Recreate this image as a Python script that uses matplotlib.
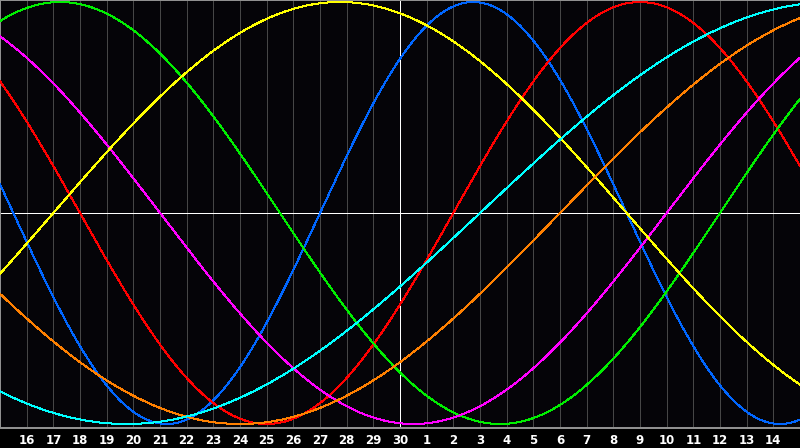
import numpy as np
import matplotlib
matplotlib.use("Agg")
import matplotlib.pyplot as plt

# Day labels along the bottom (grid positions 1..29; left edge = day 15)
day_labels = ["16", "17", "18", "19", "20", "21", "22", "23", "24", "25", "26", "27", "28", "29", "30",
              "1", "2", "3", "4", "5", "6", "7", "8", "9", "10", "11", "12", "13", "14"]

# Cycle lengths (days) and the day offset (from left edge) where each cycle crosses zero rising
cycle_names = ["physical", "emotional", "intellectual", "intuitive", "aesthetic", "awareness", "spiritual"]
cycle_periods = [23, 28, 33, 38, 43, 48, 53]
cycle_zero_day = [12, 17, 27, 25, 2, 21, 18]
cycle_colors = ["#0066ff", "#ff0000", "#00ee00", "#ff00ff", "#ffff00", "#ff8000", "#00ffff"]

n_days = 30
today_index = 15
px = 72.0 / 100.0  # one pixel in points

fig = plt.figure(figsize=(8.0, 4.48), dpi=100)
fig.patch.set_facecolor("#000000")
ax_bottom = (448 - 428) / 448
ax = fig.add_axes([0.0, ax_bottom, 1.0, 1.0 - ax_bottom])
ax.set_facecolor("#050408")

t = np.linspace(0, n_days, 1600)
for per, z, col in zip(cycle_periods, cycle_zero_day, cycle_colors):
    ax.plot(t, np.sin(2 * np.pi * (t - z) / per), color=col, lw=px, antialiased=False, zorder=3)

for k in range(1, n_days):
    if k == today_index:
        continue
    ax.axvline(k, color="#464646", lw=px, antialiased=False, zorder=1)
ax.axvline(today_index, color="#ffffff", lw=px, antialiased=False, zorder=2)
ax.axhline(0, color="#ffffff", lw=px, antialiased=False, zorder=2)

ax.set_xlim(0, n_days)
ax.set_ylim(-215 / 211, 213 / 211)
ax.set_xticks(range(1, n_days))
ax.set_xticklabels(day_labels)
ax.set_yticks([])
ax.tick_params(axis="x", length=0, pad=4, colors="white", labelsize=8.5)
for lab in ax.get_xticklabels():
    lab.set_fontweight("bold")
    lab.set_family("DejaVu Sans")

for side in ["left", "bottom", "top"]:
    ax.spines[side].set_color("#909090")
    ax.spines[side].set_linewidth(2 * px)
ax.spines["right"].set_visible(False)

fig.savefig("out.png", dpi=100, facecolor=fig.get_facecolor())
